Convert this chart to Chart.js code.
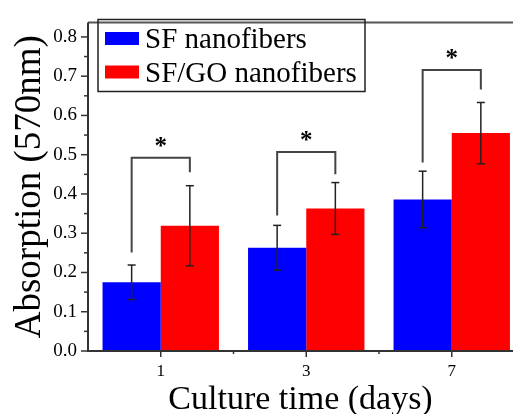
<!DOCTYPE html>
<html>
<head>
<meta charset="utf-8">
<title>Absorption (570nm)</title>
<script src="https://cdn.jsdelivr.net/npm/chart.js@4.4.1/dist/chart.umd.min.js"></script>
<style>
    html, body { margin: 0; padding: 0; background: #fff; }
    #wrap { width: 514px; height: 414px; }
</style>
</head>
<body>
<div id="wrap"><canvas id="myChart" width="514" height="414"></canvas></div>
<script>
// values
const days = ['1', '3', '7'];
const dayPositions = [1, 2, 3];
const sfValues = [0.175, 0.263, 0.386];
const sfErrors = [0.044, 0.057, 0.072];
const sfGoValues = [0.319, 0.363, 0.555];
const sfGoErrors = [0.102, 0.066, 0.078];
const yTickValues = [0, 0.1, 0.2, 0.3, 0.4, 0.5, 0.6, 0.7, 0.8];

// significance brackets: height of the bar on top, then where each leg stops
const bracketTops = [0.492, 0.507, 0.716];
const bracketLeftEnds = [0.251, 0.345, 0.480];
const bracketRightEnds = [0.455, 0.450, 0.666];
const starLabel = '*';

const serif = '"Liberation Serif", "Times New Roman", serif';
Chart.defaults.font.family = serif;
Chart.defaults.color = '#000';

function line(ctx, x1, y1, x2, y2) {
    ctx.beginPath();
    ctx.moveTo(x1, y1);
    ctx.lineTo(x2, y2);
    ctx.stroke();
}

// error bars, brackets, axes and the boxed legend
const decorPlugin = {
    id: 'decor',
    afterDatasetsDraw(chart) {
        const {ctx, chartArea: area, scales: {x, y}} = chart;
        const blue = chart.getDatasetMeta(0).data;
        const red = chart.getDatasetMeta(1).data;
        ctx.save();

        // error bars
        ctx.strokeStyle = '#222';
        ctx.lineWidth = 1.5;
        [[blue, sfValues, sfErrors], [red, sfGoValues, sfGoErrors]].forEach(([bars, vals, errs]) => {
            bars.forEach((bar, i) => {
                const top = y.getPixelForValue(vals[i] + errs[i]);
                const bot = y.getPixelForValue(vals[i] - errs[i]);
                line(ctx, bar.x, top, bar.x, bot);
                line(ctx, bar.x - 4, top, bar.x + 4, top);
                line(ctx, bar.x - 4, bot, bar.x + 4, bot);
            });
        });

        // brackets with a star
        ctx.strokeStyle = '#444';
        ctx.lineWidth = 2;
        ctx.fillStyle = '#000';
        ctx.font = 'bold 25px ' + serif;
        ctx.textAlign = 'center';
        ctx.textBaseline = 'alphabetic';
        days.forEach((d, i) => {
            const x1 = blue[i].x;
            const x2 = red[i].x;
            const yt = y.getPixelForValue(bracketTops[i]);
            ctx.beginPath();
            ctx.moveTo(x1, y.getPixelForValue(bracketLeftEnds[i]));
            ctx.lineTo(x1, yt);
            ctx.lineTo(x2, yt);
            ctx.lineTo(x2, y.getPixelForValue(bracketRightEnds[i]));
            ctx.stroke();
            ctx.fillText(starLabel, (x1 + x2) / 2, yt - 4);
        });

        // axes and frame
        ctx.strokeStyle = '#555';
        line(ctx, area.left, area.top, area.right, area.top);
        ctx.strokeStyle = '#333';
        ctx.beginPath();
        ctx.moveTo(area.left, area.top);
        ctx.lineTo(area.left, area.bottom);
        ctx.lineTo(area.right, area.bottom);
        ctx.stroke();

        // tick marks, the short ones half way
        ctx.lineWidth = 1.5;
        yTickValues.forEach((v, i) => {
            const py = y.getPixelForValue(v);
            line(ctx, area.left - 7, py, area.left, py);
            if (i < yTickValues.length - 1) {
                const pm = y.getPixelForValue((v + yTickValues[i + 1]) / 2);
                line(ctx, area.left - 4, pm, area.left, pm);
            }
        });
        dayPositions.forEach((v, i) => {
            const px = x.getPixelForValue(v);
            line(ctx, px, area.bottom, px, area.bottom + 6);
            if (i < dayPositions.length - 1) {
                const pm = x.getPixelForValue((v + dayPositions[i + 1]) / 2);
                line(ctx, pm, area.bottom, pm, area.bottom + 3);
            }
        });

        // legend in a box
        ctx.strokeStyle = '#222';
        ctx.lineWidth = 1.5;
        ctx.strokeRect(98, 19.5, 267, 72);
        ctx.font = '29px ' + serif;
        ctx.textAlign = 'left';
        chart.data.datasets.forEach((ds, i) => {
            ctx.fillStyle = ds.backgroundColor;
            ctx.fillRect(105, 32 + i * 33.5, 34, 13);
            ctx.fillStyle = '#000';
            ctx.fillText(ds.label, 145, 48 + i * 34);
        });
        ctx.restore();
    }
};

const ctx = document.getElementById('myChart').getContext('2d');
new Chart(ctx, {
    type: 'bar',
    data: {
        datasets: [{
            label: 'SF nanofibers',
            data: dayPositions.map((p, i) => ({x: p, y: sfValues[i]})),
            backgroundColor: '#0000ff'
        }, {
            label: 'SF/GO nanofibers',
            data: dayPositions.map((p, i) => ({x: p, y: sfGoValues[i]})),
            backgroundColor: '#ff0000'
        }]
    },
    options: {
        responsive: false,
        animation: false,
        events: [],
        categoryPercentage: 0.8,
        barPercentage: 1.0,
        layout: {padding: {top: 14, right: 1, left: 0, bottom: 0}},
        plugins: {
            legend: {display: false},
            tooltip: {enabled: false}
        },
        scales: {
            x: {
                type: 'linear',
                offset: false,
                min: 0.5,
                max: 3.421,
                afterBuildTicks: axis => {
                    axis.ticks = dayPositions.map(v => ({value: v}));
                },
                afterFit: axis => {
                    axis.height = 63;
                },
                grid: {display: false, drawTicks: false, offset: false},
                border: {display: false},
                ticks: {
                    font: {family: serif, size: 17},
                    padding: 10,
                    maxRotation: 0,
                    autoSkip: false,
                    callback: (v, i) => days[i]
                },
                title: {
                    display: true,
                    text: 'Culture time (days)',
                    font: {family: serif, size: 34, lineHeight: 0.8},
                    padding: {top: 0, bottom: 0}
                }
            },
            y: {
                min: 0,
                max: 0.837,
                afterBuildTicks: axis => {
                    axis.ticks = yTickValues.map(v => ({value: v}));
                },
                afterFit: axis => {
                    axis.width = 88;
                },
                grid: {display: false, drawTicks: false},
                border: {display: false},
                ticks: {
                    font: {family: serif, size: 19},
                    padding: 11,
                    callback: v => v.toFixed(1)
                },
                title: {
                    display: true,
                    text: 'Absorption (570nm)',
                    font: {family: serif, size: 37, lineHeight: 1},
                    padding: {top: 12, bottom: 0}
                }
            }
        }
    },
    plugins: [decorPlugin]
});
</script>
</body>
</html>
